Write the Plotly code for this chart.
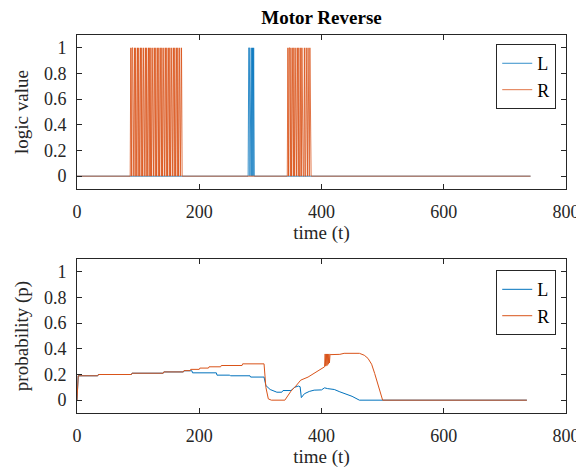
import plotly.graph_objects as go

# ---------------- data ----------------
t_end_logic = 742
# times at which the logic signal equals 1 (zero elsewhere)
L_logic_on = [281, 282, 284, 285, 287, 289]
R_logic_on = [88, 90, 91, 93, 94, 96, 98, 99, 101, 103, 104, 106, 108, 109, 111, 112,
              114, 116, 117, 119, 121, 123, 124, 126, 127, 129, 131, 132, 134, 136, 137,
              139, 141, 142, 144, 145, 147, 149, 150, 152, 154, 155, 157, 158, 160, 162,
              163, 165, 167, 168, 170, 171,
              345, 347, 348, 350, 352, 353, 355, 357, 358, 360, 361, 363, 366, 368,
              372, 375, 378, 381]

L_prob_t = [0, 2, 34, 35, 89, 90, 141, 142, 174, 175, 188, 189, 228, 229, 250, 251, 283, 284,
            306, 309, 316, 327, 335, 337, 350, 356, 362, 365, 367, 372, 380, 388, 400, 405,
            410, 415, 421, 430, 437, 450, 462, 736]
L_prob_v = [0, 0.19, 0.19, 0.2, 0.2, 0.21, 0.21, 0.22, 0.22, 0.229, 0.229, 0.213, 0.213, 0.195,
            0.195, 0.19, 0.19, 0.18, 0.18, 0.114, 0.083, 0.062, 0.062, 0.075, 0.075, 0.1, 0.11,
            0.105, 0.02, 0.05, 0.068, 0.078, 0.08, 0.096, 0.09, 0.088, 0.083, 0.065, 0.052,
            0.03, 0.0, 0.0]

R_prob_t = [0, 2, 34, 35, 89, 90, 141, 142, 174, 175, 185, 186, 200, 201, 215, 216, 235, 236,
            270, 271, 306, 309, 313, 318, 340, 345, 350, 358, 366, 378, 388, 398, 405,
            406, 407, 408, 409, 410, 411, 412, 413, 414, 415,
            430, 437, 462, 470, 476, 482, 487, 491, 495, 500, 736]
R_prob_v = [0, 0.19, 0.19, 0.2, 0.2, 0.21, 0.21, 0.22, 0.22, 0.23, 0.23, 0.24, 0.24, 0.25, 0.25,
            0.26, 0.26, 0.27, 0.27, 0.283, 0.283, 0.1, 0.01, 0.0, 0.0, 0.04, 0.07, 0.11, 0.156,
            0.18, 0.208, 0.235, 0.26,
            0.36, 0.265, 0.36, 0.27, 0.36, 0.28, 0.36, 0.29, 0.36, 0.355,
            0.357, 0.365, 0.365, 0.35, 0.326, 0.28, 0.208, 0.14, 0.078, 0.0, 0.0]

x_ticks = [0, 200, 400, 600, 800]
y_ticks = [0, 0.2, 0.4, 0.6, 0.8, 1]
y_tick_text = ["0", "0.2", "0.4", "0.6", "0.8", "1"]

BLUE = "#0072BD"
ORANGE = "#D95319"
AXC = "#262626"
FONT = "Liberation Serif"

t_logic = list(range(0, t_end_logic + 1))
L_set = set(L_logic_on)
R_set = set(R_logic_on)
L_logic = [1 if t in L_set else 0 for t in t_logic]
R_logic = [1 if t in R_set else 0 for t in t_logic]

fig = go.Figure()
fig.add_trace(go.Scatter(x=t_logic, y=L_logic, mode="lines", name="L",
                         line=dict(color=BLUE, width=0.8), xaxis="x", yaxis="y",
                         legend="legend"))
fig.add_trace(go.Scatter(x=t_logic, y=R_logic, mode="lines", name="R",
                         line=dict(color=ORANGE, width=0.8), xaxis="x", yaxis="y",
                         legend="legend"))
fig.add_trace(go.Scatter(x=L_prob_t, y=L_prob_v, mode="lines", name="L",
                         line=dict(color=BLUE, width=1), xaxis="x2", yaxis="y2",
                         legend="legend2"))
fig.add_trace(go.Scatter(x=R_prob_t, y=R_prob_v, mode="lines", name="R",
                         line=dict(color=ORANGE, width=1), xaxis="x2", yaxis="y2",
                         legend="legend2"))

axis_common = dict(showline=True, linecolor=AXC, linewidth=1, mirror="allticks",
                   ticks="inside", ticklen=5, tickcolor=AXC, showgrid=False,
                   zeroline=False, ticklabelstandoff=6, ticklabeloverflow="allow",
                   automargin=False,
                   tickfont=dict(family=FONT, size=18, color=AXC))
xax = dict(axis_common, range=[0, 800], tickvals=x_ticks,
           title=dict(text="time (t)", font=dict(family=FONT, size=19, color=AXC), standoff=5))
yax = dict(axis_common, range=[-0.1, 1.1], tickvals=y_ticks, ticktext=y_tick_text)

leg_common = dict(x=0.98, xanchor="right", yanchor="top", bgcolor="white",
                  bordercolor=AXC, borderwidth=1,
                  font=dict(family=FONT, size=18, color="black"),
                  tracegroupgap=0, itemwidth=30)

fig.update_layout(
    width=576, height=471,
    margin=dict(l=77, r=10, t=35, b=58, autoexpand=False),
    paper_bgcolor="white", plot_bgcolor="white",
    font=dict(family=FONT, color=AXC),
    title=dict(text="<b>Motor Reverse</b>", x=(77 + 566) / 2 / 576, xanchor="center",
               y=1 - 17 / 471, yanchor="middle",
               font=dict(family=FONT, size=19, color="black")),
    xaxis=dict(xax, anchor="y", domain=[0, 1]),
    yaxis=dict(yax, anchor="x", domain=[0.5926, 1],
               title=dict(text="logic value", font=dict(family=FONT, size=19, color=AXC),
                          standoff=10)),
    xaxis2=dict(xax, anchor="y2", domain=[0, 1]),
    yaxis2=dict(yax, anchor="x2", domain=[0, 0.4074],
                title=dict(text="probability (p)", font=dict(family=FONT, size=19, color=AXC),
                           standoff=10)),
    legend=dict(leg_common, y=0.976),
    legend2=dict(leg_common, y=0.378),
    showlegend=True,
)

fig.write_html("out.html")
